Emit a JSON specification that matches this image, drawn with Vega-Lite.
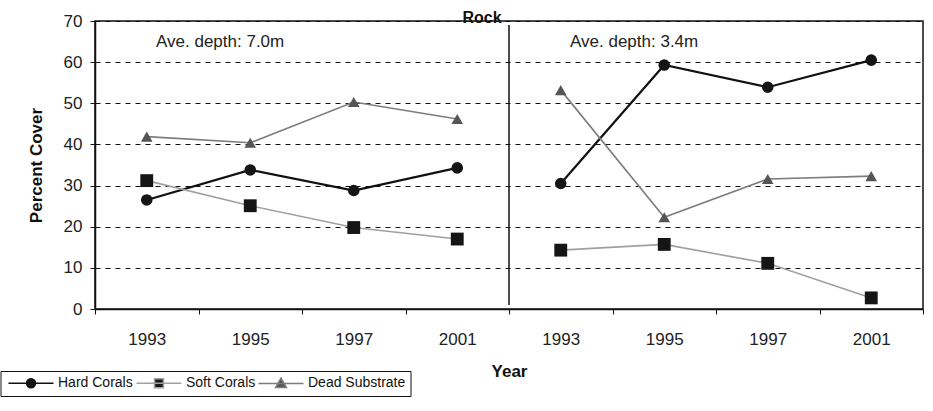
{
  "$schema": "https://vega.github.io/schema/vega-lite/v6.json",
  "width": 828,
  "height": 288,
  "autosize": "none",
  "padding": {"left": 95, "top": 21, "right": 10, "bottom": 102},
  "background": "white",
  "title": {"text": "Rock", "fontSize": 16, "fontWeight": "bold", "font": "Liberation Sans", "color": "#111", "dx": -27, "offset": -26.5, "baseline": "alphabetic"},
  "config": {
    "font": "Liberation Sans",
    "view": {"stroke": "#111", "strokeWidth": 1.5},
    "axis": {"labelFont": "Liberation Sans", "titleFont": "Liberation Sans", "labelColor": "#222", "titleColor": "#111", "domainColor": "#111", "tickColor": "#111"},
    "legend": {"labelFont": "Liberation Sans"}
  },
  "data": {"values": [
    {"slot": "L1993", "panel": "L", "series": "Hard Corals", "value": 26.5},
    {"slot": "L1995", "panel": "L", "series": "Hard Corals", "value": 33.8},
    {"slot": "L1997", "panel": "L", "series": "Hard Corals", "value": 28.8},
    {"slot": "L2001", "panel": "L", "series": "Hard Corals", "value": 34.3},
    {"slot": "L1993", "panel": "L", "series": "Soft Corals", "value": 31.2},
    {"slot": "L1995", "panel": "L", "series": "Soft Corals", "value": 25.1},
    {"slot": "L1997", "panel": "L", "series": "Soft Corals", "value": 19.8},
    {"slot": "L2001", "panel": "L", "series": "Soft Corals", "value": 17.0},
    {"slot": "L1993", "panel": "L", "series": "Dead Substrate", "value": 41.9},
    {"slot": "L1995", "panel": "L", "series": "Dead Substrate", "value": 40.4},
    {"slot": "L1997", "panel": "L", "series": "Dead Substrate", "value": 50.3},
    {"slot": "L2001", "panel": "L", "series": "Dead Substrate", "value": 46.2},
    {"slot": "R1993", "panel": "R", "series": "Hard Corals", "value": 30.5},
    {"slot": "R1995", "panel": "R", "series": "Hard Corals", "value": 59.3},
    {"slot": "R1997", "panel": "R", "series": "Hard Corals", "value": 53.9},
    {"slot": "R2001", "panel": "R", "series": "Hard Corals", "value": 60.5},
    {"slot": "R1993", "panel": "R", "series": "Soft Corals", "value": 14.3},
    {"slot": "R1995", "panel": "R", "series": "Soft Corals", "value": 15.7},
    {"slot": "R1997", "panel": "R", "series": "Soft Corals", "value": 11.1},
    {"slot": "R2001", "panel": "R", "series": "Soft Corals", "value": 2.7},
    {"slot": "R1993", "panel": "R", "series": "Dead Substrate", "value": 53.2},
    {"slot": "R1995", "panel": "R", "series": "Dead Substrate", "value": 22.3},
    {"slot": "R1997", "panel": "R", "series": "Dead Substrate", "value": 31.6},
    {"slot": "R2001", "panel": "R", "series": "Dead Substrate", "value": 32.3}
  ]},
  "encoding": {
    "x": {
      "field": "slot", "type": "nominal",
      "scale": {"type": "band", "domain": ["L1993", "L1995", "L1997", "L2001", "R1993", "R1995", "R1997", "R2001"], "paddingInner": 0, "paddingOuter": 0},
      "axis": {"title": "Year", "titleFontSize": 17, "titleFontWeight": "bold", "titlePadding": 16, "labelExpr": "substring(datum.label, 1)", "labelAngle": 0, "labelFontSize": 17, "labelPadding": 17, "tickBand": "extent", "tickSize": 5, "domainWidth": 1.5, "grid": false}
    },
    "y": {
      "field": "value", "type": "quantitative",
      "scale": {"domain": [0, 70], "nice": false, "zero": true},
      "axis": {"title": "Percent Cover", "titleFontSize": 17, "titleFontWeight": "bold", "titlePadding": 18, "values": [0, 10, 20, 30, 40, 50, 60, 70], "labelFontSize": 17, "labelPadding": 8, "tickSize": 5, "domainWidth": 1.5, "grid": true, "gridColor": "#111", "gridDash": [5, 5], "gridWidth": 1}
    }
  },
  "layer": [
    {
      "mark": {"type": "line"},
      "encoding": {
        "detail": [{"field": "panel", "type": "nominal"}, {"field": "series", "type": "nominal"}],
        "stroke": {"condition": [{"test": "datum.series === 'Hard Corals'", "value": "#111111"}, {"test": "datum.series === 'Soft Corals'", "value": "#a0a0a0"}], "value": "#7c7c7c"},
        "strokeWidth": {"condition": {"test": "datum.series === 'Hard Corals'", "value": 2.2}, "value": 1.6}
      }
    },
    {
      "mark": {"type": "point", "filled": true, "opacity": 1},
      "encoding": {
        "shape": {"condition": [{"test": "datum.series === 'Hard Corals'", "value": "circle"}, {"test": "datum.series === 'Soft Corals'", "value": "square"}], "value": "triangle-up"},
        "fill": {"condition": [{"test": "datum.series === 'Dead Substrate'", "value": "#555555"}], "value": "#151515"},
        "size": {"condition": {"test": "datum.series === 'Soft Corals'", "value": 165}, "value": 135}
      }
    },
    {
      "transform": [{"filter": "datum.value < 0"}],
      "mark": {"type": "point", "filled": true, "size": 81, "strokeWidth": 1.5, "opacity": 1},
      "encoding": {
        "shape": {"field": "series", "type": "nominal",
          "scale": {"domain": ["Hard Corals", "Soft Corals", "Dead Substrate"], "range": ["M-5,0H5M1,0A1,1,0,1,1,-1,0A1,1,0,1,1,1,0Z", "M-5,0H5M-1,-1H1V1H-1Z", "M-5,0H5M0,-1.2L1.2,0.9H-1.2Z"]},
          "legend": {
            "orient": "none", "legendX": -94.5, "legendY": 350, "direction": "horizontal", "title": null,
            "strokeColor": "#111", "fillColor": "white", "padding": 5,
            "labelFontSize": 14, "labelColor": "#111", "symbolSize": 81, "symbolStrokeWidth": 1.5,
            "symbolOffset": 18.5, "labelOffset": 20, "columnPadding": 0
          }
        },
        "fill": {"field": "series", "type": "nominal", "scale": {"domain": ["Hard Corals", "Soft Corals", "Dead Substrate"], "range": ["#151515", "#1a1a1a", "#555555"]}},
        "stroke": {"field": "series", "type": "nominal", "scale": {"domain": ["Hard Corals", "Soft Corals", "Dead Substrate"], "range": ["#111111", "#a0a0a0", "#7c7c7c"]}}
      }
    },
    {
      "transform": [{"filter": "datum.slot === 'R1993' && datum.series === 'Hard Corals'"}],
      "mark": {"type": "rule", "color": "#111", "strokeWidth": 1.5},
      "encoding": {
        "x": {"field": "slot", "type": "nominal", "bandPosition": 0},
        "y": {"datum": 69, "type": "quantitative"},
        "y2": {"datum": 1}
      }
    },
    {
      "data": {"values": [
        {"slot": "L1993", "label": "Ave. depth: 7.0m", "value": 65},
        {"slot": "R1993", "label": "Ave. depth: 3.4m", "value": 65}
      ]},
      "mark": {"type": "text", "align": "left", "baseline": "middle", "dx": 61, "fontSize": 17, "color": "#222", "font": "Liberation Sans"},
      "encoding": {
        "x": {"field": "slot", "type": "nominal", "bandPosition": 0},
        "text": {"field": "label"}
      }
    }
  ]
}
